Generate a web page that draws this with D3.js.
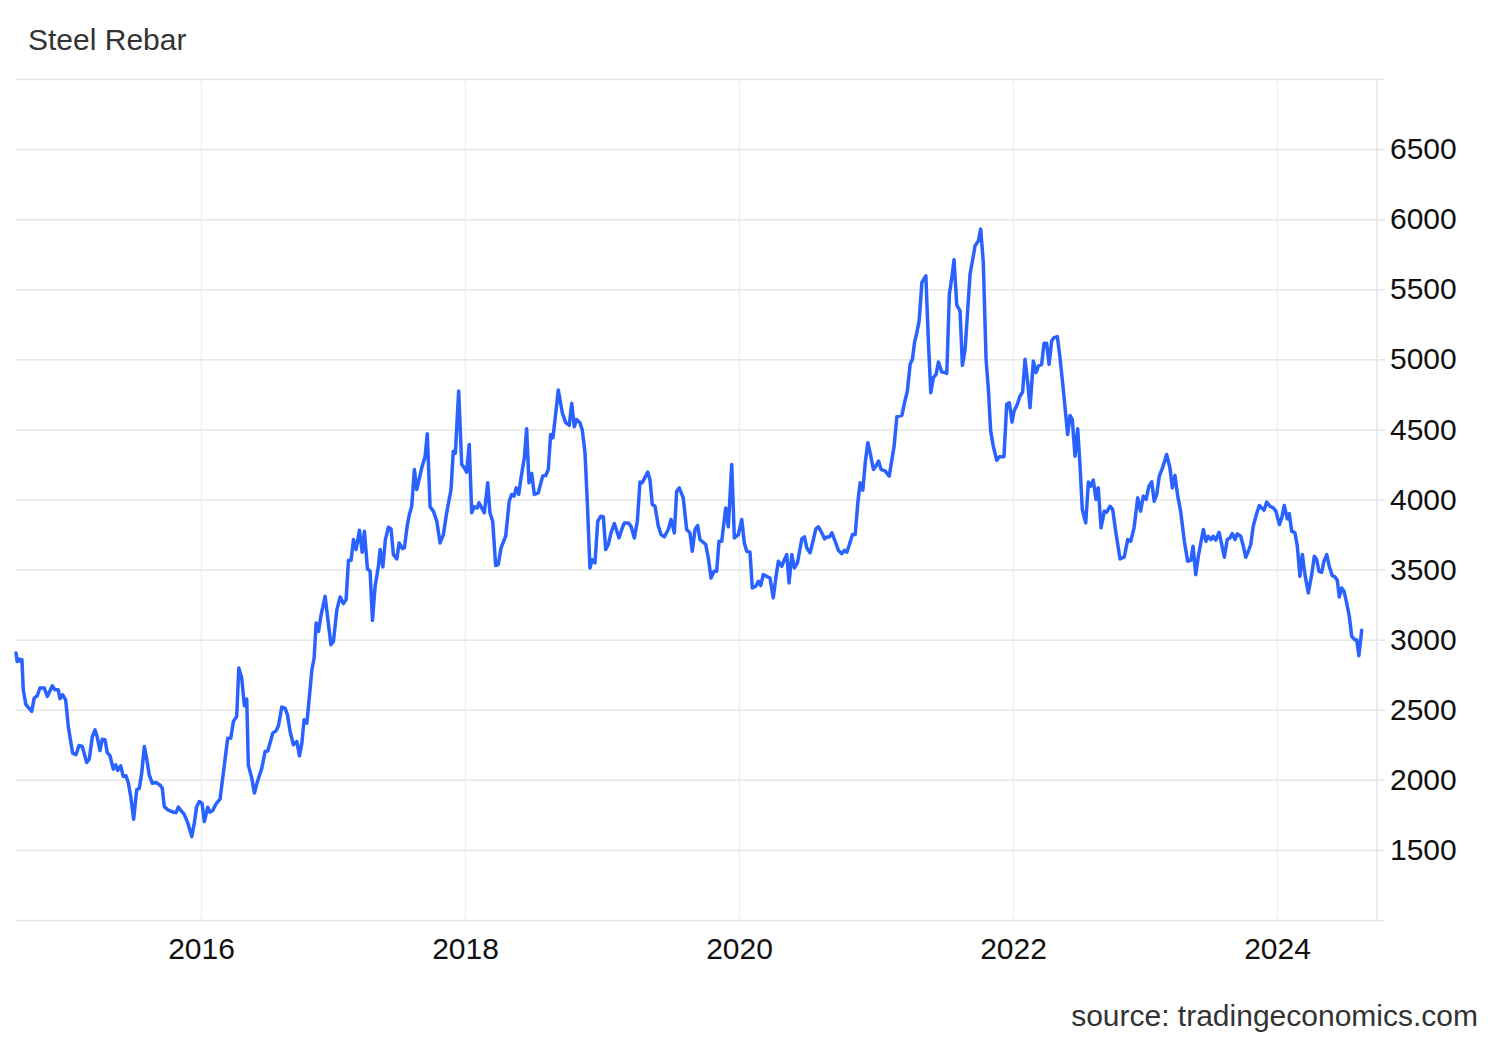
<!DOCTYPE html>
<html>
<head>
    <meta charset="utf-8">
    <title>Steel Rebar</title>
    <style>
        body { margin: 0; background: #fff; }
        svg { font-family: "Liberation Sans", Arial, sans-serif; }
        .grid-y line { stroke: #e6e6e6; stroke-width: 1.5; }
        .grid-x line { stroke: #edf1f5; stroke-width: 1.5; }
        .grid-y text { fill: #111; font-size: 30px; }
        .grid-x text { fill: #111; font-size: 30px; }
        .domain { display: none; }
        .line { fill: none; stroke: #2962ff; stroke-width: 3.5; stroke-linejoin: round; stroke-linecap: round; }
    </style>
</head>
<body>
<svg width="1500" height="1040"></svg>

<script src="https://d3js.org/d3.v7.min.js"></script>
<script>

    // weekly readings, dates as decimal years
    var dates = [
        2014.599, 2014.608, 2014.624, 2014.634, 2014.644, 2014.654, 2014.674, 2014.718, 2014.737, 2014.760,
        2014.780, 2014.813, 2014.836, 2014.874, 2014.894, 2014.919, 2014.932, 2014.952, 2014.975, 2014.995,
        2015.028, 2015.053, 2015.076, 2015.101, 2015.134, 2015.154, 2015.177, 2015.197, 2015.214, 2015.235,
        2015.252, 2015.273, 2015.290, 2015.311, 2015.336, 2015.354, 2015.369, 2015.392, 2015.411, 2015.432,
        2015.449, 2015.468, 2015.490, 2015.513, 2015.533, 2015.551, 2015.571, 2015.589, 2015.608, 2015.631,
        2015.659, 2015.689, 2015.707, 2015.722, 2015.748, 2015.790, 2015.811, 2015.828, 2015.854, 2015.871,
        2015.899, 2015.930, 2015.949, 2015.967, 2015.987,
        2016.008, 2016.025, 2016.051, 2016.068, 2016.089, 2016.114, 2016.144, 2016.169, 2016.202, 2016.225,
        2016.245, 2016.270, 2016.286, 2016.308, 2016.328, 2016.346, 2016.358, 2016.384, 2016.404, 2016.427,
        2016.460, 2016.485, 2016.505, 2016.543, 2016.568, 2016.586, 2016.611, 2016.636, 2016.654, 2016.674,
        2016.699, 2016.725, 2016.745, 2016.763, 2016.780, 2016.801, 2016.820, 2016.839, 2016.856, 2016.871,
        2016.889, 2016.909, 2016.939, 2016.983,
        2017.002, 2017.028, 2017.053, 2017.078, 2017.098, 2017.116, 2017.136, 2017.154, 2017.174, 2017.199,
        2017.220, 2017.237, 2017.260, 2017.280, 2017.298, 2017.318, 2017.343, 2017.356, 2017.377, 2017.396,
        2017.419, 2017.439, 2017.457, 2017.483, 2017.500, 2017.525, 2017.540, 2017.563, 2017.578, 2017.596,
        2017.616, 2017.634, 2017.672, 2017.697, 2017.714, 2017.735, 2017.760, 2017.786, 2017.811, 2017.836,
        2017.861, 2017.894, 2017.911, 2017.927, 2017.952, 2017.975, 2017.995,
        2018.012, 2018.031, 2018.049, 2018.068, 2018.090, 2018.102, 2018.122, 2018.141, 2018.166, 2018.182,
        2018.202, 2018.224, 2018.243, 2018.263, 2018.297, 2018.323, 2018.341, 2018.358, 2018.374, 2018.392,
        2018.409, 2018.433, 2018.450, 2018.467, 2018.487, 2018.506, 2018.535, 2018.567, 2018.589, 2018.608,
        2018.625, 2018.642, 2018.657, 2018.681, 2018.710, 2018.735, 2018.761, 2018.779, 2018.798, 2018.815,
        2018.839, 2018.856, 2018.876, 2018.893, 2018.912, 2018.929, 2018.949, 2018.969, 2018.991,
        2019.010, 2019.027, 2019.046, 2019.066, 2019.090, 2019.124, 2019.144, 2019.163, 2019.192, 2019.212,
        2019.236, 2019.258, 2019.277, 2019.294, 2019.334, 2019.350, 2019.367, 2019.387, 2019.411, 2019.431,
        2019.455, 2019.484, 2019.504, 2019.528, 2019.545, 2019.564, 2019.593, 2019.618, 2019.642, 2019.659,
        2019.679, 2019.698, 2019.715, 2019.739, 2019.757, 2019.776, 2019.796, 2019.818, 2019.837, 2019.854,
        2019.874, 2019.903, 2019.922, 2019.947, 2019.966, 2019.995,
        2020.020, 2020.039, 2020.056, 2020.080, 2020.097, 2020.122, 2020.141, 2020.158, 2020.177, 2020.202,
        2020.226, 2020.250, 2020.270, 2020.287, 2020.312, 2020.331, 2020.348, 2020.365, 2020.385, 2020.404,
        2020.426, 2020.458, 2020.477, 2020.494, 2020.518, 2020.542, 2020.560, 2020.579, 2020.604, 2020.623,
        2020.640, 2020.659, 2020.677, 2020.701, 2020.725, 2020.750, 2020.769, 2020.786, 2020.805, 2020.827,
        2020.847, 2020.866, 2020.883, 2020.903, 2020.920, 2020.939, 2020.956, 2020.980, 2020.998,
        2021.017, 2021.036, 2021.066, 2021.095, 2021.115, 2021.131, 2021.151, 2021.188, 2021.207, 2021.228,
        2021.248, 2021.265, 2021.280, 2021.297, 2021.314, 2021.334, 2021.363, 2021.382, 2021.399, 2021.418,
        2021.438, 2021.455, 2021.479, 2021.504, 2021.516, 2021.535, 2021.553, 2021.569, 2021.589, 2021.613,
        2021.630, 2021.650, 2021.686, 2021.723, 2021.747, 2021.764, 2021.783, 2021.803, 2021.820, 2021.837,
        2021.856, 2021.881, 2021.900, 2021.934, 2021.954, 2021.973, 2021.993,
        2022.008, 2022.033, 2022.053, 2022.073, 2022.091, 2022.111, 2022.129, 2022.154, 2022.174, 2022.192,
        2022.217, 2022.235, 2022.255, 2022.273, 2022.293, 2022.311, 2022.336, 2022.356, 2022.381, 2022.414,
        2022.432, 2022.449, 2022.470, 2022.490, 2022.508, 2022.525, 2022.551, 2022.571, 2022.589, 2022.608,
        2022.629, 2022.646, 2022.667, 2022.692, 2022.710, 2022.735, 2022.755, 2022.778, 2022.811, 2022.843,
        2022.869, 2022.892, 2022.917, 2022.945, 2022.967, 2022.987,
        2023.008, 2023.030, 2023.051, 2023.070, 2023.089, 2023.108, 2023.131, 2023.164, 2023.189, 2023.207,
        2023.227, 2023.248, 2023.270, 2023.298, 2023.323, 2023.348, 2023.364, 2023.384, 2023.404, 2023.430,
        2023.442, 2023.462, 2023.480, 2023.500, 2023.517, 2023.536, 2023.561, 2023.581, 2023.601, 2023.623,
        2023.644, 2023.661, 2023.682, 2023.699, 2023.725, 2023.745, 2023.763, 2023.783, 2023.801, 2023.820,
        2023.846, 2023.866, 2023.884, 2023.902, 2023.922, 2023.947, 2023.972, 2023.992,
        2024.018, 2024.036, 2024.055, 2024.078, 2024.093, 2024.111, 2024.136, 2024.154, 2024.174, 2024.192,
        2024.212, 2024.237, 2024.263, 2024.283, 2024.301, 2024.318, 2024.339, 2024.356, 2024.377, 2024.396,
        2024.419, 2024.439, 2024.457, 2024.472, 2024.490, 2024.508, 2024.528, 2024.548, 2024.566, 2024.591,
        2024.604, 2024.621, 2024.642
    ];

    // CNY/T
    var prices = [
        2905, 2845, 2862, 2845, 2857, 2643, 2536, 2488, 2583, 2600,
        2655, 2655, 2595, 2671, 2643, 2643, 2579, 2607, 2571, 2381,
        2190, 2179, 2245, 2238, 2124, 2148, 2309, 2357, 2305, 2209,
        2290, 2286, 2195, 2171, 2076, 2107, 2067, 2100, 2024, 2029,
        1981, 1881, 1719, 1929, 1940, 2048, 2238, 2148, 2036, 1976,
        1981, 1964, 1940, 1809, 1786, 1769, 1766, 1805, 1774, 1757,
        1695, 1595, 1690, 1809, 1845,
        1833, 1702, 1805, 1769, 1781, 1829, 1862, 2048, 2297, 2297,
        2417, 2452, 2798, 2726, 2529, 2576, 2107, 2012, 1905, 1988,
        2083, 2202, 2205, 2333, 2350, 2386, 2519, 2512, 2464, 2345,
        2250, 2274, 2171, 2262, 2429, 2405, 2595, 2786, 2869, 3119,
        3059, 3179, 3309, 2964,
        2988, 3214, 3305, 3257, 3286, 3567, 3567, 3714, 3643, 3781,
        3624, 3774, 3505, 3488, 3138, 3381, 3524, 3643, 3519, 3714,
        3802, 3790, 3607, 3576, 3690, 3650, 3655, 3821, 3893, 3952,
        4214, 4071, 4226, 4305, 4469, 3948, 3917, 3845, 3690, 3750,
        3905, 4071, 4345, 4330, 4774, 4250, 4226,
        4195, 4393, 3905, 3948, 3940, 3976, 3940, 3905, 4119, 3905,
        3845, 3529, 3536, 3655, 3738, 3988, 4036, 4024, 4083, 4036,
        4155, 4298, 4505, 4119, 4186, 4036, 4048, 4167, 4171, 4214,
        4464, 4440, 4571, 4781, 4619, 4548, 4529, 4686, 4519, 4571,
        4548, 4495, 4333, 3976, 3512, 3571, 3548, 3845, 3881,
        3876, 3643, 3679, 3762, 3829, 3726, 3786, 3833, 3833, 3809,
        3726, 3845, 4124, 4120, 4195, 4143, 3964, 3952, 3810, 3750,
        3733, 3786, 3857, 3762, 4059, 4083, 4012, 3786, 3762, 3631,
        3786, 3814, 3714, 3695, 3679, 3583, 3440, 3488, 3488, 3702,
        3702, 3940, 3805, 4250, 3726, 3750,
        3857, 3690, 3631, 3624, 3369, 3381, 3417, 3386, 3464, 3452,
        3440, 3298, 3452, 3559, 3524, 3571, 3607, 3405, 3607, 3512,
        3548, 3719, 3733, 3655, 3619, 3714, 3790, 3805, 3762, 3719,
        3733, 3733, 3762, 3702, 3636, 3614, 3638, 3624, 3679, 3750,
        3750, 3976, 4119, 4067, 4262, 4405, 4333, 4214, 4238,
        4274, 4214, 4202, 4167, 4286, 4381, 4590, 4600, 4690, 4774,
        4964, 5000, 5119, 5190, 5274, 5548, 5595, 5119, 4762, 4869,
        4893, 4981, 4910, 4905, 4900, 5464, 5583, 5710, 5386, 5345,
        4957, 5071, 5607, 5810, 5845, 5929, 5690, 5000, 4786, 4488,
        4381, 4279, 4305, 4305, 4679, 4690, 4552,
        4631, 4679, 4738, 4767, 5000, 4838, 4655, 4988, 4905, 4952,
        4964, 5114, 5114, 4964, 5131, 5155, 5162, 5012, 4786, 4464,
        4600, 4571, 4309, 4505, 4238, 3929, 3833, 4124, 4095, 4138,
        4000, 4083, 3798, 3917, 3910, 3952, 3929, 3774, 3576, 3590,
        3714, 3702, 3798, 4012, 3917, 4024,
        4000, 4095, 4126, 3988, 4036, 4167, 4221, 4321, 4226, 4083,
        4171, 4024, 3917, 3702, 3559, 3567, 3667, 3464, 3595, 3726,
        3786, 3702, 3738, 3714, 3738, 3710, 3766, 3679, 3588, 3714,
        3726, 3757, 3714, 3755, 3738, 3667, 3588, 3631, 3679, 3810,
        3900, 3957, 3940, 3924, 3981, 3952, 3940, 3917,
        3821, 3869, 3957, 3862, 3900, 3774, 3762, 3667, 3452, 3607,
        3464, 3333, 3464, 3595, 3571, 3488, 3481, 3559, 3607, 3524,
        3457, 3448, 3424, 3305, 3369, 3345, 3262, 3167, 3024, 3000,
        3000, 2886, 3067
    ];

    var yearTicks = [2016, 2018, 2020, 2022, 2024];
    var priceTicks = [1500, 2000, 2500, 3000, 3500, 4000, 4500, 5000, 5500, 6000, 6500];
    var priceGrid = [1000, 1500, 2000, 2500, 3000, 3500, 4000, 4500, 5000, 5500, 6000, 6500, 7000];

    var title = "Steel Rebar",
        source = "source: tradingeconomics.com";

    function toDate(y) {
        var yr = Math.floor(y),
            start = new Date(yr, 0, 1),
            end = new Date(yr + 1, 0, 1);
        return new Date(+start + (y - yr) * (end - start));
    }

    var data = dates.map(function (d, i) { return { date: toDate(d), value: prices[i] }; });

    var svg = d3.select("svg"),
        plotLeft = 16, plotRight = 1377, plotTop = 79, plotBottom = 920, gridEnd = 1385;

    // the source chart spaces trading weeks evenly, so each two-year span gets its own width
    var x = d3.scaleTime()
        .domain([data[0].date].concat(yearTicks.map(function (y) { return new Date(y, 0, 1); }), [toDate(2024.758)]))
        .range([plotLeft, 201, 465, 739, 1013, 1277, plotRight]);

    var y = d3.scaleLinear()
        .domain([1000, 7000])
        .range([plotBottom, plotTop]);

    // vertical year grid + labels
    svg.append("g")
        .attr("class", "grid-x")
        .attr("transform", "translate(0," + plotBottom + ")")
        .call(d3.axisBottom(x)
            .tickValues(yearTicks.map(function (y) { return new Date(y, 0, 1); }))
            .tickSize(-(plotBottom - plotTop))
            .tickPadding(18)
            .tickFormat(d3.timeFormat("%Y")));

    // horizontal grid + right labels
    svg.append("g")
        .attr("class", "grid-y")
        .attr("transform", "translate(" + gridEnd + ",0)")
        .call(d3.axisRight(y)
            .tickValues(priceGrid)
            .tickSize(-(gridEnd - plotLeft))
            .tickPadding(5)
            .tickFormat(function (d) { return priceTicks.indexOf(d) >= 0 ? d : ""; }));

    svg.append("line")
        .attr("x1", plotRight).attr("x2", plotRight)
        .attr("y1", plotTop).attr("y2", plotBottom)
        .attr("stroke", "#e6e6e6")
        .attr("stroke-width", 1.5);

    svg.append("path")
        .datum(data)
        .attr("class", "line")
        .attr("d", d3.line()
            .x(function (d) { return x(d.date); })
            .y(function (d) { return y(d.value); }));

    svg.append("text")
        .attr("x", 28)
        .attr("y", 50)
        .attr("fill", "#333")
        .style("font-size", "30px")
        .text(title);

    svg.append("text")
        .attr("x", 1478)
        .attr("y", 1026)
        .attr("text-anchor", "end")
        .attr("fill", "#333")
        .style("font-size", "30px")
        .text(source);

</script>
</body>
</html>
